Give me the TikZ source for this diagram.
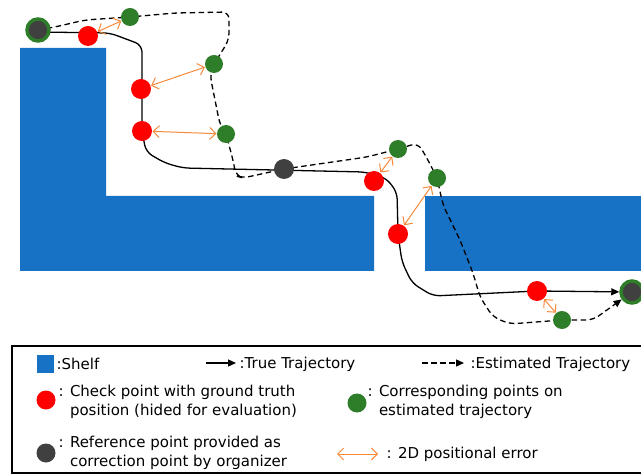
\documentclass[tikz,border=0pt]{standalone}
\usepackage{fontspec}
\setmainfont{DejaVu Sans}
\usetikzlibrary{arrows.meta, backgrounds}

\definecolor{shelfblue}{RGB}{23,113,196}
\definecolor{ptgreen}{RGB}{46,125,40}
\definecolor{ptgray}{RGB}{64,64,64}
\definecolor{errorange}{RGB}{247,137,58}

\begin{document}
\begin{tikzpicture}[x=1bp, y=-1bp, line width=1.2bp,
    font=\fontsize{15bp}{19bp}\selectfont,
    shelf/.style={fill=shelfblue},
    checkpt/.style={circle, fill=red, inner sep=0pt, minimum size=20bp},
    estpt/.style={circle, fill=ptgreen, inner sep=0pt, minimum size=18bp},
    refpt/.style={circle, fill=ptgray, inner sep=0pt, minimum size=20bp},
    refring/.style={circle, fill=ptgray, draw=ptgreen, line width=3.5bp, inner sep=0pt, minimum size=22bp},
    errarrow/.style={draw=errorange, line width=1bp,
        {Straight Barb[length=6bp,width=12bp]}-{Straight Barb[length=6bp,width=12bp]}},
    truetraj/.style={line width=1.3bp, rounded corners=7bp, -{Triangle[length=8bp,width=7bp]}},
    esttraj/.style={truetraj, dash pattern=on 5.5bp off 3.5bp},
    keytext/.style={anchor=west, align=left, inner sep=0pt}]
    \useasboundingbox (0,0) rectangle (641,474);

    % draw points
    \node[refring] (start) at (38,30) {};
    \node[refring] (goal) at (632,292) {};
    \node[refpt] (mid) at (284,169) {};

    \node[checkpt] (c1) at (88,36) {};
    \node[checkpt] (c2) at (141,89) {};
    \node[checkpt] (c3) at (142,131) {};
    \node[checkpt] (c4) at (374,181) {};
    \node[checkpt] (c5) at (398,234) {};
    \node[checkpt] (c6) at (537,291) {};

    \node[estpt] (e1) at (130,17) {};
    \node[estpt] (e2) at (214,64) {};
    \node[estpt] (e3) at (226,134) {};
    \node[estpt] (e4) at (398,149) {};
    \node[estpt] (e5) at (437,178) {};
    \node[estpt] (e6) at (562,320) {};

    % draw shelves and trajectories behind the points
    \begin{scope}[on background layer]
        \fill[shelf] (20,48) -- (106,48) -- (106,196) -- (374,196) -- (374,271) -- (20,271) -- cycle;
        \fill[shelf] (425,196) rectangle (641,271);

        \draw[truetraj] (38,32) -- (110,33) -- (142,45) -- (142,131) -- (146,152)
            -- (165,163) -- (183,168) -- (365,172) -- (386,178) -- (397,192) -- (398,234)
            -- (402,262) -- (412,283) -- (433,296) -- (537,291) -- (goal);

        \draw[esttraj] (38,30) -- (55,27) -- (85,20) -- (130,17) -- (175,13) -- (229,12)
            -- (229,40) -- (214,64) -- (210,75) -- (220,125) -- (226,134) -- (233,160)
            -- (236,176) -- (243,178) -- (284,169) -- (367,157) -- (398,149) -- (418,143)
            -- (428,160) -- (437,178) -- (443,205) -- (460,240) -- (473,273) -- (480,297)
            -- (493,317) -- (510,324) -- (562,320) -- (593,320) -- (goal);
    \end{scope}

    % draw positional errors
    \draw[errarrow] (c1) -- (e1);
    \draw[errarrow] (c2) -- (e2);
    \draw[errarrow] (c3) -- (e3);
    \draw[errarrow] (c4) -- (e4);
    \draw[errarrow] (c5) -- (e5);
    \draw[errarrow] (c6) -- (e6);

    % draw legend
    \draw[line width=1.5bp] (12,346) rectangle (660,473);

    \node[shelf, minimum width=17bp, minimum height=18bp, inner sep=0pt] (keyshelf) at (45.5,364) {};
    \node[keytext] (txtshelf) at (56,364) {:Shelf};

    \coordinate (keytrueA) at (206,363);
    \coordinate (keytrueB) at (236,363);
    \draw[truetraj] (keytrueA) -- (keytrueB);
    \node[keytext] (txttrue) at (239,364) {:True Trajectory};

    \coordinate (keyestA) at (422,363);
    \coordinate (keyestB) at (464,363);
    \draw[esttraj] (keyestA) -- (keyestB);
    \node[keytext] (txtest) at (470,364) {:Estimated Trajectory};

    \node[checkpt, minimum size=19bp] (keycheck) at (46,400) {};
    \node[keytext] (txtcheck) at (58,402) {: Check point with ground truth\\\phantom{: }position (hided for evaluation)};

    \node[estpt, minimum size=19bp] (keyest) at (357,403) {};
    \node[keytext] (txtcorr) at (367,402) {: Corresponding points on\\\phantom{: }estimated trajectory};

    \node[refpt, minimum size=19bp] (keyref) at (46,453) {};
    \node[keytext] (txtref) at (58,453) {: Reference point provided as\\\phantom{: }correction point by organizer};

    \coordinate (keyerrA) at (337,454);
    \coordinate (keyerrB) at (378,454);
    \draw[errarrow] (keyerrA) -- (keyerrB);
    \node[keytext] (txterr) at (386,454) {: 2D positional error};
\end{tikzpicture}
\end{document}
